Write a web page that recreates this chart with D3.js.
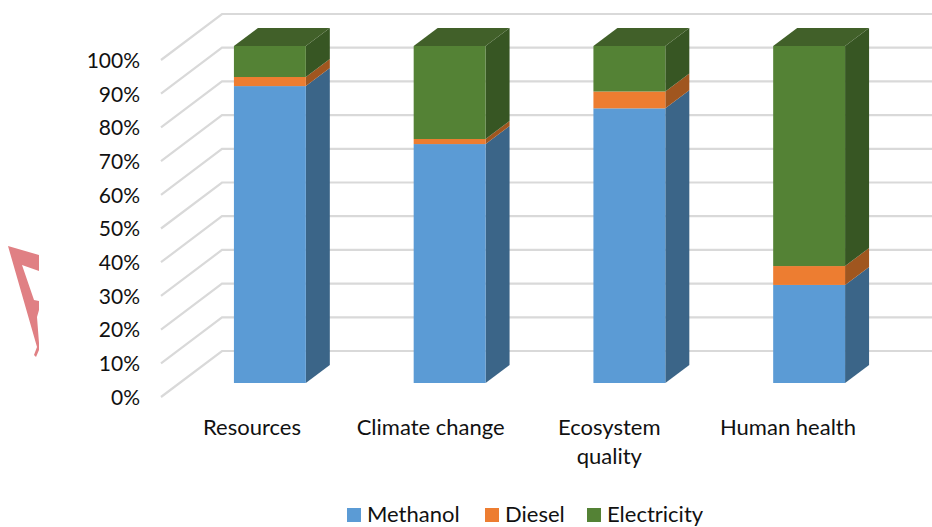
<!DOCTYPE html>
<html>
<head>
<meta charset="utf-8">
<script src="https://d3js.org/d3.v7.min.js"></script>
<style>
html,body{margin:0;padding:0;background:#fff;overflow:hidden}
svg{display:block}
text{font-family:Lato,"Open Sans",sans-serif;fill:#111}
</style>
</head>
<body>
<svg id="c" width="932" height="527"></svg>
<script>
const categories = [["Resources"],["Climate change"],["Ecosystem","quality"],["Human health"]];
const seriesNames = ["Methanol","Diesel","Electricity"];
const methanol = [88.1,70.9,81.5,29.1];
const diesel = [2.7,1.5,5.0,5.6];
const electricity = [9.2,27.6,13.5,65.3];
const tickValues = [0,10,20,30,40,50,60,70,80,90,100];
const frontColors = ["#5b9bd5","#ed7d31","#548235"];
const sideColors = ["#3b6588","#a0561f","#375623"];
const topColor = "#416029";
const outline = "M8,246L39,255L39,271L22,265L34,300L39,301L39,310L37,317L39,343L39,350L36,357L34,355L37,347Z";

const svg = d3.select("#c");
const keys = categories.map(c=>c.join(" "));
const x = d3.scaleBand().domain(keys).range([180,899]).paddingInner(0.6).paddingOuter(0.3);
const labelX = d3.scalePoint().domain(keys).range([252,788]);
const y = d3.scaleLinear().domain([0,100]).range([383,46]);
const depth = {dx:24, dy:-18};
const wall = {dx:-12, dy:-32};   // back wall offset from the bar's front plane
const floor = {dx:-61, dy:46};   // front-left edge of the floor from the wall

// gridlines
const grid = svg.append("g").attr("fill","none").attr("stroke","#d9d9d9").attr("stroke-width",2.2);
tickValues.forEach(t=>{
  const yb = y(t)+wall.dy;
  grid.append("path").attr("d",`M${222+floor.dx},${yb+floor.dy}L222,${yb}L932,${yb}`);
});

// tick labels via axis
const axis = d3.axisLeft(d3.scaleLinear().domain([0,100]).range([397,60]))
  .tickValues(tickValues).tickFormat(d=>d+"%").tickSize(0).tickPadding(0);
const ag = svg.append("g").attr("transform","translate(140,0)").call(axis);
ag.select(".domain").remove();
ag.selectAll("text").attr("font-size",21).style("font-family","Lato,'Open Sans',sans-serif").attr("fill","#111").attr("dy","0.35em");

// bars
const stack = d3.stack().keys([0,1,2]).value((d,k)=>[methanol,diesel,electricity][k][d]);
const series = stack(d3.range(categories.length));
const bars = svg.append("g");
series.forEach((s,k)=>{
  s.forEach((d,i)=>{
    const x0 = x(keys[i]), w = x.bandwidth();
    const yT = y(d[1]), yB = y(d[0]);
    bars.append("path").attr("fill",sideColors[k])
      .attr("d",`M${x0+w},${yT}L${x0+w+depth.dx},${yT+depth.dy}L${x0+w+depth.dx},${yB+depth.dy}L${x0+w},${yB}Z`);
    bars.append("rect").attr("x",x0).attr("y",yT).attr("width",w).attr("height",yB-yT).attr("fill",frontColors[k]);
    if(k===2){
      bars.append("path").attr("fill",topColor)
        .attr("d",`M${x0},${yT}L${x0+depth.dx},${yT+depth.dy}L${x0+w+depth.dx},${yT+depth.dy}L${x0+w},${yT}Z`);
    }
  });
});

// category labels
const labels = svg.append("g").attr("text-anchor","middle").attr("font-size",22);
categories.forEach((c,i)=>{
  c.forEach((line,j)=>labels.append("text").attr("x",labelX(keys[i])).attr("y",435+j*29).text(line));
});

// legend
const legendX = [347,485,587];
const lg = svg.append("g");
seriesNames.forEach((n,k)=>{
  lg.append("rect").attr("x",legendX[k]).attr("y",508).attr("width",14).attr("height",14).attr("fill",frontColors[k]);
  lg.append("text").attr("x",legendX[k]+20).attr("y",522).attr("font-size",22).text(n);
});

// stray shape
svg.append("path").attr("d",outline).attr("fill","#e08084");
</script>
</body>
</html>
